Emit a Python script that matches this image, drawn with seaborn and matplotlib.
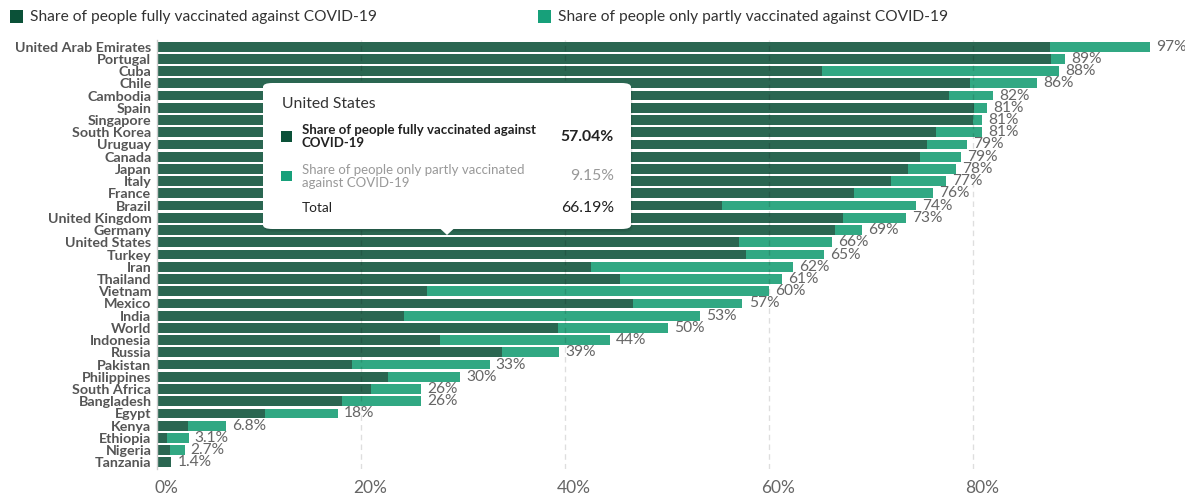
import matplotlib
matplotlib.use("Agg")
import matplotlib.pyplot as plt
import matplotlib.transforms as mtransforms
import seaborn as sns
import numpy as np
import pandas as pd
from matplotlib.patches import FancyBboxPatch, Polygon, Rectangle

countries = ["United Arab Emirates", "Portugal", "Cuba", "Chile", "Cambodia", "Spain",
             "Singapore", "South Korea", "Uruguay", "Canada", "Japan", "Italy", "France",
             "Brazil", "United Kingdom", "Germany", "United States", "Turkey", "Iran",
             "Thailand", "Vietnam", "Mexico", "India", "World", "Indonesia", "Russia",
             "Pakistan", "Philippines", "South Africa", "Bangladesh", "Egypt", "Kenya",
             "Ethiopia", "Nigeria", "Tanzania"]
fully = [87.5, 87.6, 65.2, 79.7, 77.6, 80.1, 80.0, 76.4, 75.5, 74.8, 73.6, 72.0, 68.3,
         55.4, 67.3, 66.5, 57.04, 57.7, 42.5, 45.4, 26.5, 46.7, 24.2, 39.3, 27.7, 33.8,
         19.1, 22.6, 21.0, 18.1, 10.6, 3.0, 1.0, 1.3, 1.4]
partly = [9.9, 1.4, 23.2, 6.6, 4.4, 1.3, 0.9, 4.5, 3.9, 4.0, 4.7, 5.4, 7.8,
          19.0, 6.1, 2.6, 9.15, 7.7, 19.9, 15.9, 33.5, 10.7, 29.0, 10.8, 16.7, 5.6,
          13.5, 7.1, 4.9, 7.8, 7.1, 3.8, 2.1, 1.4, 0.0]
xticks = [0, 20, 40, 60, 80]
xtick_labels = ["0%", "20%", "40%", "60%", "80%"]
legend_labels = ["Share of people fully vaccinated against COVID-19",
                 "Share of people only partly vaccinated against COVID-19"]
tooltip_country = "United States"

DARK = "#2a6651"
LIGHT = "#31a883"
DARK_KEY = "#0b5138"
LIGHT_KEY = "#17a07a"
FONT = "Lato"

W, H = 1185, 494
df = pd.DataFrame({"country": countries, "fully": fully, "partly": partly})
df["total"] = (df["fully"] + df["partly"]).round(2)

sns.set_theme(style="white")
plt.rcParams["font.family"] = [FONT, "DejaVu Sans"]

fig = plt.figure(figsize=(W / 100, H / 100), dpi=100)
ax = fig.add_axes([157 / W, 1 - 468.5 / H, (1151.5 - 157) / W, 428 / H])

sns.barplot(data=df, x="total", y="country", orient="h", color=LIGHT, saturation=1,
            width=0.8, ax=ax, zorder=2, linewidth=0)
sns.barplot(data=df, x="fully", y="country", orient="h", color=DARK, saturation=1,
            width=0.8, ax=ax, zorder=2, linewidth=0)

ax.set_xlim(0, 97.5)
ax.set_ylim(len(countries) - 0.5, -0.5)
ax.set_xlabel("")
ax.set_ylabel("")
for g in xticks[1:]:
    ax.axvline(g, color="#000000", alpha=0.13, lw=1, ls=(0, (4, 3)), zorder=3)

for i, t in enumerate(df["total"]):
    ax.text(t + 0.6, i, f"{t:.2g}%", va="center", ha="left", fontsize=11.2,
            color="#666666", family=FONT, zorder=4)

ax.set_xticks(xticks)
ax.set_xticklabels(xtick_labels, fontsize=12.5, color="#666666", family=FONT)
ax.tick_params(axis="x", length=0, pad=8)
ax.tick_params(axis="y", length=0, pad=4)
shift = mtransforms.ScaledTranslation(9 / 100, 0, fig.dpi_scale_trans)
for lab in ax.get_xticklabels():
    lab.set_transform(lab.get_transform() + shift)
for lab in ax.get_yticklabels():
    lab.set_fontsize(10.3)
    lab.set_fontweight("bold")
    lab.set_color("#555555")
    lab.set_family(FONT)
for s in ["top", "right", "bottom"]:
    ax.spines[s].set_visible(False)
ax.spines["left"].set_color("#cccccc")
ax.spines["left"].set_linewidth(1)
ax.set_facecolor("white")


def fx(px):
    return px / W


def fy(py):
    return 1 - py / H


# legend
for x0, col, lab in [(10, DARK_KEY, legend_labels[0]), (538, LIGHT_KEY, legend_labels[1])]:
    fig.add_artist(Rectangle((fx(x0), fy(23)), 13 / W, 13 / H, transform=fig.transFigure,
                             facecolor=col, edgecolor="none"))
    fig.text(fx(x0 + 20), fy(17), lab, va="center", ha="left", fontsize=11.2,
             color="#333333", family=FONT)

# tooltip
idx = countries.index(tooltip_country)
f_val, p_val, t_val = fully[idx], partly[idx], df["total"][idx]
bx0, bx1, by0, by1 = 263, 631, 83, 229
for off, a in [(3, 0.06), (1.5, 0.08)]:
    fig.add_artist(FancyBboxPatch((fx(bx0 + off * 0.5), fy(by1 + off)), (bx1 - bx0) / W,
                                  (by1 - by0) / H, boxstyle="round,pad=0,rounding_size=0.008",
                                  transform=fig.transFigure, facecolor="black", alpha=a,
                                  edgecolor="none", zorder=9))
fig.add_artist(FancyBboxPatch((fx(bx0), fy(by1)), (bx1 - bx0) / W, (by1 - by0) / H,
                              boxstyle="round,pad=0,rounding_size=0.008",
                              transform=fig.transFigure, facecolor="white",
                              edgecolor="none", zorder=10))
fig.add_artist(Polygon([(fx(440), fy(228.5)), (fx(454), fy(228.5)), (fx(447), fy(235))],
                       closed=True, transform=fig.transFigure, facecolor="white",
                       edgecolor="none", zorder=10))
fig.text(fx(282), fy(104), tooltip_country, fontsize=11.3, color="#333333", family=FONT,
         va="center", ha="left", zorder=11)
fig.add_artist(Rectangle((fx(281), fy(142)), 10.5 / W, 10.5 / H, transform=fig.transFigure,
                         facecolor=DARK_KEY, edgecolor="none", zorder=11))
fig.text(fx(302), fy(136.5), "Share of people fully vaccinated against\nCOVID-19", fontsize=9.5,
         fontweight="bold", color="#222222", family=FONT, va="center", ha="left",
         linespacing=1.05, zorder=11)
fig.text(fx(614), fy(137), f"{f_val:.2f}%", fontsize=11.3, fontweight="bold", color="#222222",
         family=FONT, va="center", ha="right", zorder=11)
fig.add_artist(Rectangle((fx(281), fy(181.5)), 10.5 / W, 10.5 / H, transform=fig.transFigure,
                         facecolor=LIGHT_KEY, edgecolor="none", zorder=11))
fig.text(fx(302), fy(176.5), "Share of people only partly vaccinated\nagainst COVID-19",
         fontsize=9.5, color="#999999", family=FONT, va="center", ha="left",
         linespacing=1.05, zorder=11)
fig.text(fx(614), fy(176), f"{p_val:.2f}%", fontsize=11.3, color="#999999", family=FONT,
         va="center", ha="right", zorder=11)
fig.text(fx(302), fy(208), "Total", fontsize=9.8, color="#222222", family=FONT,
         va="center", ha="left", zorder=11)
fig.text(fx(614), fy(208), f"{t_val:.2f}%", fontsize=11.3, color="#222222", family=FONT,
         va="center", ha="right", zorder=11)

fig.savefig("out.png", dpi=100, facecolor="white")
